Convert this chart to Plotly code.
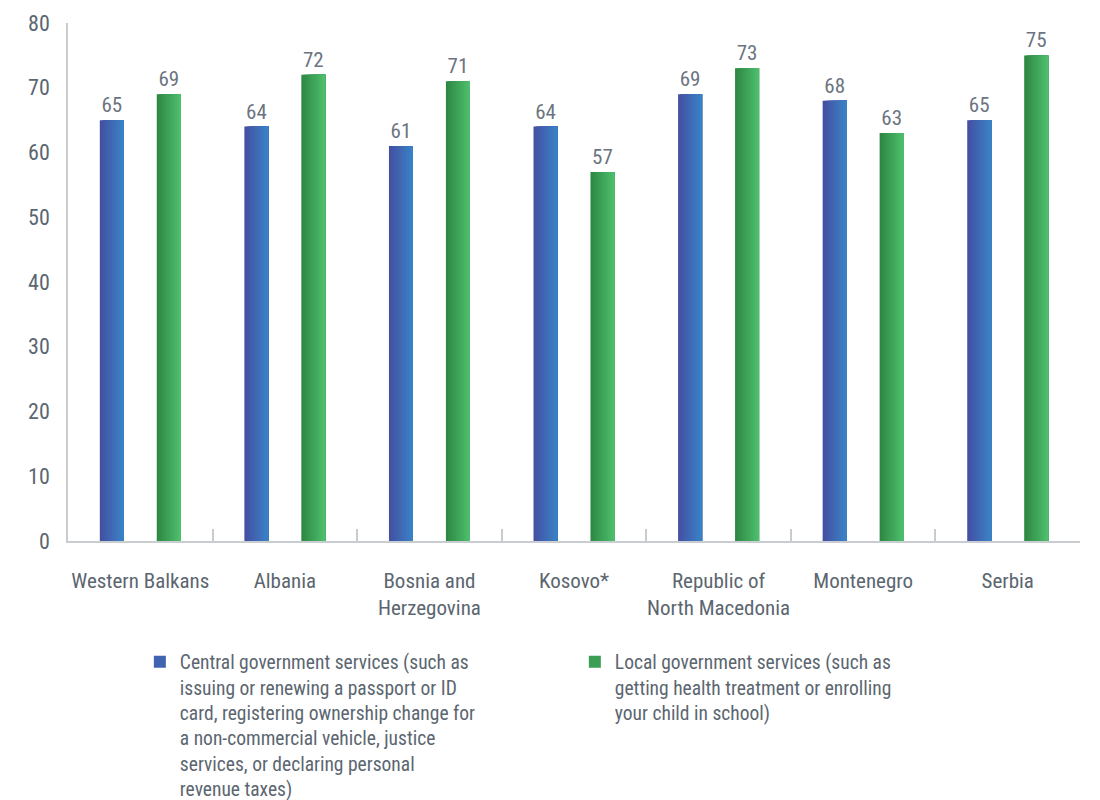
import plotly.graph_objects as go

regions = ["Western Balkans", "Albania", "Bosnia and<br>Herzegovina", "Kosovo*",
           "Republic of<br>North Macedonia", "Montenegro", "Serbia"]
central = [65, 64, 61, 64, 69, 68, 65]
local = [69, 72, 71, 57, 73, 63, 75]

central_name = ("Central government services (such as<br>issuing or renewing a passport or ID<br>"
                "card, registering ownership change for<br>a non-commercial vehicle, justice<br>"
                "services, or declaring personal<br>revenue taxes)")
local_name = ("Local government services (such as<br>getting health treatment or enrolling<br>"
              "your child in school)")

FONT = "Roboto Condensed, Liberation Sans Narrow, Roboto, sans-serif"
GREY = "#5b6670"


def mix(c1, c2, t):
    return "rgb(%d,%d,%d)" % tuple(round(a + (b - a) * t) for a, b in zip(c1, c2))


fig = go.Figure()

bar_w = 0.166
n_strips = 12
strip_w = bar_w / n_strips
series = [
    (central, central_name, (68, 80, 162), (58, 130, 198), -0.197),
    (local, local_name, (46, 136, 68), (78, 190, 108), 0.197),
]

for vals, name, c_left, c_right, centre in series:
    left = centre - bar_w / 2
    # gradient: each layer starts a bit further right and covers to the bar's right edge
    for i in range(n_strips):
        fig.add_trace(go.Bar(
            x=regions, y=vals, offset=left + i * strip_w, width=bar_w - i * strip_w,
            marker=dict(color=mix(c_left, c_right, i / (n_strips - 1)), line=dict(width=0)),
            showlegend=False, hoverinfo="skip"))
    # transparent bar carrying the value labels
    fig.add_trace(go.Bar(
        x=regions, y=vals, offset=left, width=bar_w,
        marker=dict(color="rgba(0,0,0,0)", line=dict(width=0)),
        text=vals, textposition="outside", cliponaxis=False,
        textfont=dict(size=21, color="#6b7480", family=FONT),
        showlegend=False, hoverinfo="skip"))
    # legend entry
    fig.add_trace(go.Bar(
        x=[None], y=[None], name=name,
        marker=dict(color=mix(c_left, c_right, 0.4), line=dict(width=0))))

fig.update_layout(
    width=1100, height=800,
    barmode="overlay",
    plot_bgcolor="white", paper_bgcolor="white",
    margin=dict(l=60, r=28, t=15, b=267, autoexpand=False),
    font=dict(family=FONT, size=19, color=GREY),
    legend=dict(
        orientation="h", x=0.071, xanchor="left", y=-0.196, yanchor="top",
        entrywidth=390, entrywidthmode="pixels", valign="top",
        font=dict(size=19.5, color=GREY, family=FONT),
        itemsizing="constant", tracegroupgap=0,
    ),
)

fig.update_xaxes(
    showline=True, linecolor="#c9cdd2", linewidth=1.5,
    tickson="boundaries", ticks="inside", ticklen=12, tickcolor="#c9cdd2", tickwidth=1.5,
    tickfont=dict(size=21, color=GREY, family=FONT), ticklabelstandoff=20, tickangle=0,
    showgrid=False,
)
fig.update_yaxes(
    range=[0, 80], dtick=10, showgrid=False, zeroline=False,
    showline=True, linecolor="#c9cdd2", linewidth=1.5,
    tickfont=dict(size=22, color=GREY, family=FONT), ticklabelstandoff=12,
)

fig.write_html("out.html")
